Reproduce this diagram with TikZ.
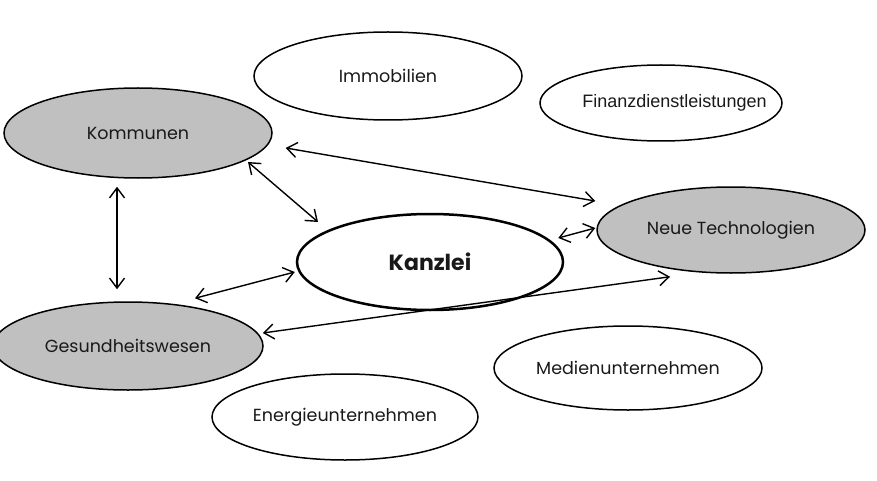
\documentclass[tikz,border=0pt]{standalone}
\usepackage{fontspec}
\setmainfont{Poppins}
\newfontfamily\arialfont{Liberation Sans}
\usetikzlibrary{arrows.meta,shapes.geometric}
\definecolor{boxgray}{RGB}{192,192,192}
\newcommand{\zbox}[1]{\makebox[0pt]{#1}}
\tikzset{
  oval/.style={ellipse, draw=black, line width=1.5pt, inner sep=0pt, text=black!90, font=\fontsize{17.5}{20}\selectfont},
  grayoval/.style={oval, fill=boxgray},
  arr/.style={line width=1.4pt, {Straight Barb[length=10pt,width=15pt]}-{Straight Barb[length=10pt,width=15pt]}}
}
\begin{document}
\begin{tikzpicture}[x=1pt,y=-1pt]
\useasboundingbox (0,0) rectangle (877,481);
\begin{scope}
\clip (0,0) rectangle (877,481);
\node[oval, minimum width=268pt, minimum height=88pt] (imm) at (388,76) {\zbox{Immobilien}};
\node[oval, minimum width=242pt, minimum height=76pt, font=\arialfont\fontsize{18}{20}\selectfont] (fin) at (661,103) {\zbox{\hspace*{27pt}Finanzdienstleistungen}};
\node[grayoval, minimum width=268pt, minimum height=90pt] (kom) at (138,133) {\zbox{Kommunen}};
\node[grayoval, minimum width=268pt, minimum height=86pt] (neu) at (731,230) {\zbox{Neue Technologien}};
\node[oval, line width=2.5pt, minimum width=266pt, minimum height=96pt, font=\bfseries\fontsize{22}{24}\selectfont] (kan) at (430,262) {\zbox{Kanzlei}};
\node[grayoval, minimum width=270pt, minimum height=88pt] (ges) at (128,346) {\zbox{Gesundheitswesen}};
\node[oval, minimum width=268pt, minimum height=84pt] (med) at (628,368) {\zbox{Medienunternehmen}};
\node[oval, minimum width=266pt, minimum height=86pt] (ene) at (345,417) {\zbox{Energieunternehmen}};
\end{scope}
\draw[arr] ([shift={(13,15)}]kom.east) -- ([shift={(-1,-29)}]neu.west);
\draw[arr] ([shift={(110,29)}]kom.center) -- ([shift={(-112,-40)}]kan.center);
\draw[arr] ([shift={(-21,8)}]kom.south) -- ([shift={(-11,-12)}]ges.north);
\draw[arr] ([shift={(67,-3)}]ges.north) -- ([shift={(-1,10)}]kan.west);
\draw[arr] ([shift={(-1,-13)}]ges.east) -- ([shift={(-61,3)}]neu.south);
\draw[arr] ([shift={(-6,-24)}]kan.east) -- ([shift={(-1,-2)}]neu.west);
\end{tikzpicture}
\end{document}
